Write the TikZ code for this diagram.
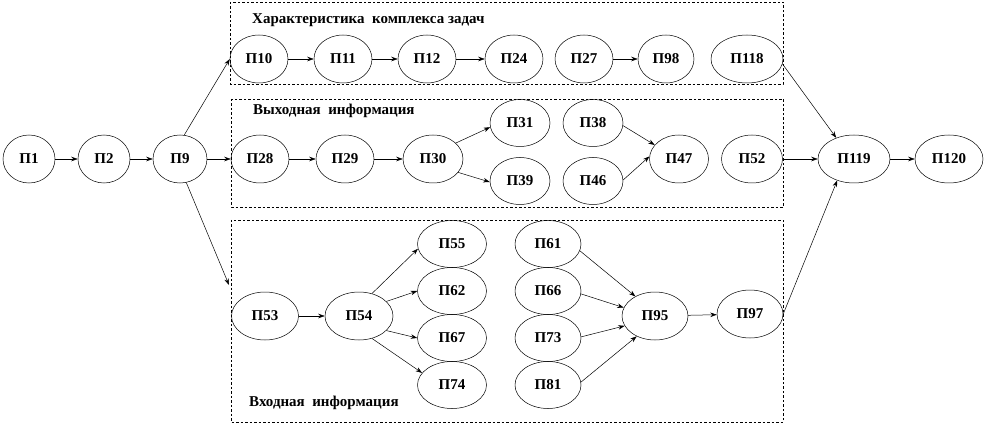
\documentclass[tikz,border=0pt]{standalone}
\usepackage{fontspec}
\setmainfont{Liberation Serif}
\usetikzlibrary{shapes.geometric,arrows.meta}
\tikzset{
  pnode/.style={ellipse,draw,line width=0.5pt,minimum width=58pt,minimum height=48pt,inner sep=0pt,font=\fontsize{15}{15}\selectfont\bfseries},
  arr/.style={line width=0.5pt,-{Stealth[length=6.5pt,width=4.5pt]}},
  grp/.style={draw,line width=0.6pt,dash pattern=on 2.5pt off 2pt},
  ttl/.style={anchor=west,inner sep=0pt,font=\fontsize{15}{15}\selectfont\bfseries}
}
\begin{document}
\begin{tikzpicture}[x=1pt,y=-1pt]
\useasboundingbox (0,0) rectangle (989,425);
% groups
\draw[grp] (230,2) rectangle (783,84);
\draw[grp] (231,99) rectangle (783,207);
\draw[grp] (231,220) rectangle (783,422);
\node[ttl] (t1) at (252,20) {Характеристика\ \ комплекса задач};
\node[ttl] (t2) at (253,111) {Выходная\ \ информация};
\node[ttl] (t3) at (249,403) {Входная\ \ информация};
% nodes
\node[pnode,minimum width=52pt] (p1) at (29,159) {П1};
\node[pnode,minimum width=52pt] (p2) at (104,159) {П2};
\node[pnode,minimum width=54pt] (p9) at (180,159) {П9};
\node[pnode] (p10) at (259,59) {П10};
\node[pnode] (p11) at (343,59) {П11};
\node[pnode] (p12) at (427,59) {П12};
\node[pnode] (p24) at (514,59) {П24};
\node[pnode] (p27) at (584,59) {П27};
\node[pnode,minimum width=56pt] (p98) at (666,59) {П98};
\node[pnode,minimum width=72pt] (p118) at (747,59) {П118};
\node[pnode] (p28) at (260,159) {П28};
\node[pnode] (p29) at (345,159) {П29};
\node[pnode,minimum width=60pt] (p30) at (433,159) {П30};
\node[pnode,minimum width=60pt,minimum height=47pt] (p31) at (520,123) {П31};
\node[pnode,minimum width=60pt,minimum height=47pt] (p39) at (520,181) {П39};
\node[pnode,minimum width=60pt,minimum height=47pt] (p38) at (593,123) {П38};
\node[pnode,minimum width=60pt,minimum height=47pt] (p46) at (593,181) {П46};
\node[pnode,minimum width=59pt] (p47) at (679,159) {П47};
\node[pnode,minimum width=61pt] (p52) at (752,159) {П52};
\node[pnode,minimum width=72pt] (p119) at (854,159) {П119};
\node[pnode,minimum width=68pt] (p120) at (949,159) {П120};
\node[pnode,minimum width=67pt] (p53) at (265,316) {П53};
\node[pnode,minimum width=68pt] (p54) at (359,316) {П54};
\node[pnode,minimum width=69pt,minimum height=47pt] (p55) at (452,244) {П55};
\node[pnode,minimum width=69pt,minimum height=47pt] (p62) at (452,291) {П62};
\node[pnode,minimum width=69pt,minimum height=47pt] (p67) at (452,338) {П67};
\node[pnode,minimum width=69pt,minimum height=47pt] (p74) at (452,385) {П74};
\node[pnode,minimum width=66pt,minimum height=47pt] (p61) at (548,244) {П61};
\node[pnode,minimum width=66pt,minimum height=47pt] (p66) at (548,291) {П66};
\node[pnode,minimum width=66pt,minimum height=47pt] (p73) at (548,338) {П73};
\node[pnode,minimum width=66pt,minimum height=47pt] (p81) at (548,385) {П81};
\node[pnode,minimum width=66pt] (p95) at (655,316) {П95};
\node[pnode,minimum width=66pt] (p97) at (750,314) {П97};
\coordinate (inbox) at (229,285);
% connectors
\draw[arr] (p1) -- (p2);
\draw[arr] (p2) -- (p9);
\draw[arr] (p9.east) -- (p28.west);
\draw[arr] (p9.80) -- (p10.west);
\draw[arr] (p9.-75) -- (inbox);
\draw[arr] (p10) -- (p11);
\draw[arr] (p11) -- (p12);
\draw[arr] (p12) -- (p24);
\draw[arr] (p27) -- (p98);
\draw[arr] (p118.-8) -- (p119.130);
\draw[arr] (p28) -- (p29);
\draw[arr] (p29) -- (p30);
\draw[arr] (p30.35) -- (p31.188);
\draw[arr] (p30.-28) -- (p39.182);
\draw[arr] (p38.-5) -- (p47.150);
\draw[arr] (p46.2) -- (p47.175);
\draw[arr] (p52.east) -- (p119.west);
\draw[arr] (p119) -- (p120);
\draw[arr] (p53) -- (p54);
\draw[arr] (p54.60) -- (p55.188);
\draw[arr] (p54.28) -- (p62.west);
\draw[arr] (p54.-28) -- (p67.west);
\draw[arr] (p54.-60) -- (p74.158);
\draw[arr] (p61.-12) -- (p95.135);
\draw[arr] (p66.-5) -- (p95.165);
\draw[arr] (p73.2) -- (p95.198);
\draw[arr] (p81.5) -- (p95.228);
\draw[arr] (p95) -- (p97);
\draw[arr] (p97.east) -- (p119.-128);
\end{tikzpicture}
\end{document}
